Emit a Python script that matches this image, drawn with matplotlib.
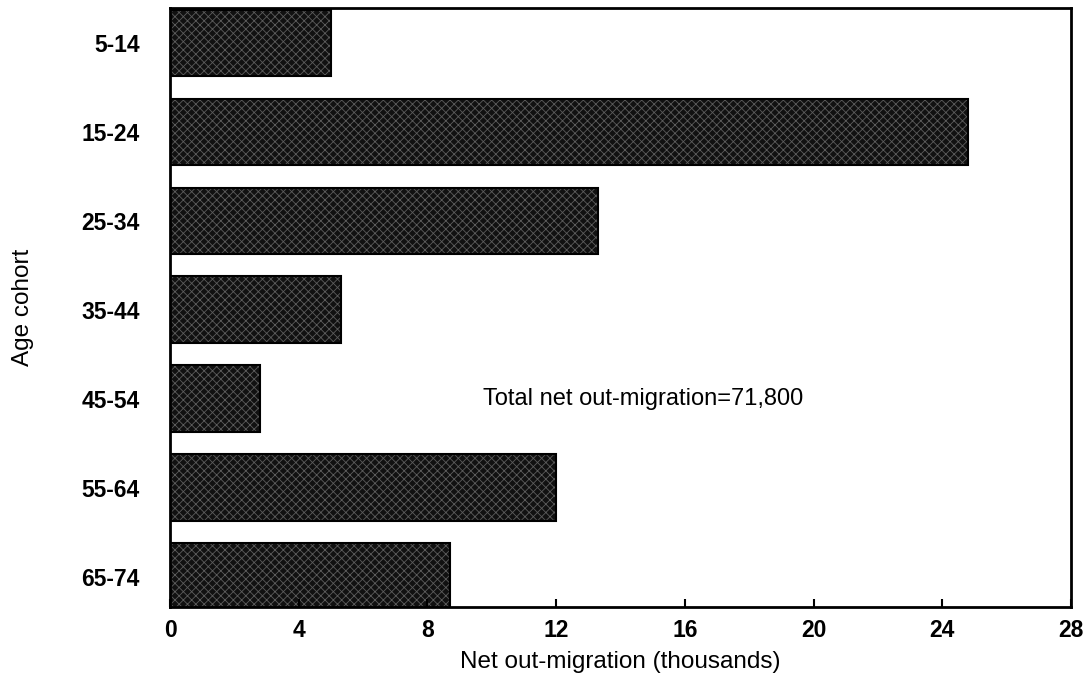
import matplotlib.pyplot as plt

plt.rcParams['font.family'] = ['Liberation Sans', 'DejaVu Sans']
plt.rcParams['hatch.linewidth'] = 0.6

cohorts = ['5-14', '15-24', '25-34', '35-44', '45-54', '55-64', '65-74']
migration = [5.0, 24.8, 13.3, 5.3, 2.8, 12.0, 8.7]
xticks = [0, 4, 8, 12, 16, 20, 24, 28]

fig = plt.figure(figsize=(10.9, 6.91), dpi=100)
ax = fig.add_axes([0.156, 0.1216, 0.8266, 0.8664])

ypos = range(len(cohorts))
# dark fill with grey cross-hatch, then a solid black outline on top
ax.barh(ypos, migration, height=0.75, color='#111111',
        edgecolor='#5c5c5c', hatch='xxxx', linewidth=0)
ax.barh(ypos, migration, height=0.75, fill=False,
        edgecolor='black', linewidth=1.5)

ax.set_xlim(0, 28)
ax.set_ylim(6.34, -0.39)
ax.set_xticks(xticks)
ax.set_xticklabels([str(t) for t in xticks], fontsize=16.5, fontweight='bold')
ax.set_yticks(list(ypos))
ax.set_yticklabels(cohorts, fontsize=16.5, fontweight='bold')
ax.tick_params(axis='y', length=0, pad=22)
ax.tick_params(axis='x', direction='in', length=6, width=1.5, pad=9)

for s in ax.spines.values():
    s.set_linewidth(2)

ax.set_xlabel('Net out-migration (thousands)', fontsize=17.5, labelpad=6)
ax.set_ylabel('Age cohort', fontsize=17.5, labelpad=34)

ax.text(14.7, 4, 'Total net out-migration=71,800', fontsize=17,
        ha='center', va='center')

plt.savefig('out.png', dpi=100)
